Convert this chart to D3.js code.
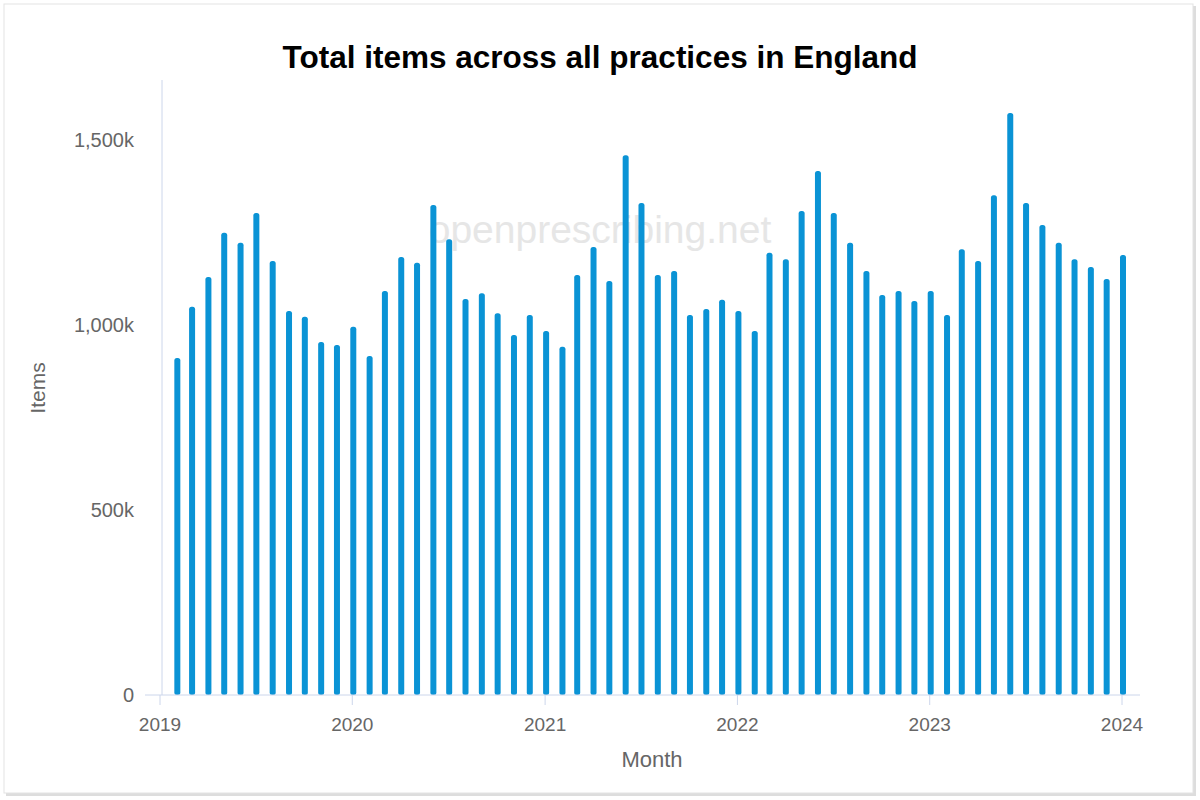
<!DOCTYPE html>
<html>
<head>
<meta charset="utf-8">
<script src="https://cdn.jsdelivr.net/npm/d3@7"></script>
<style>
  body { margin: 0; background: #fff; font-family: "Liberation Sans", Arial, sans-serif; }
</style>
</head>
<body>
<svg id="chart" width="1200" height="800"></svg>
<script>
// Monthly totals, Feb 2019 .. Jan 2024 (thousands of items)
const months = d3.timeMonths(new Date(2019, 1, 1), new Date(2024, 1, 1));
const items = [
  911, 1049, 1130, 1249, 1222, 1303, 1173, 1038, 1022, 954, 946,
  995, 916, 1092, 1184, 1168, 1324, 1232, 1070, 1086, 1032, 973, 1027,
  984, 941, 1135, 1211, 1119, 1459, 1330, 1135, 1146, 1027, 1043, 1068,
  1038, 984, 1195, 1178, 1308, 1416, 1303, 1222, 1146, 1081, 1092, 1065,
  1092, 1027, 1205, 1173, 1351, 1573, 1330, 1270, 1222, 1178, 1157, 1124,
  1189
];
const yTicks = [0, 500, 1000, 1500];
const yearTicks = [2019, 2020, 2021, 2022, 2023, 2024].map(y => new Date(y, 0, 1));

const svg = d3.select("#chart");

// frame
svg.append("rect").attr("x", 6).attr("y", 6).attr("width", 1190).attr("height", 790)
  .attr("fill", "#ddd");
svg.append("rect").attr("x", 4).attr("y", 4).attr("width", 1189).attr("height", 789)
  .attr("fill", "#fff").attr("stroke", "#e3e3e3");

const x = d3.scaleTime().domain([new Date(2019, 0, 1), new Date(2024, 0, 1)]).range([160, 1122]);
const y = d3.scaleLinear().domain([0, 1000]).range([695, 325]);

svg.append("text").attr("x", 600).attr("y", 68).attr("text-anchor", "middle")
  .attr("font-size", 31.5).attr("font-weight", "bold").attr("fill", "#000")
  .text("Total items across all practices in England");

// watermark
svg.append("text").attr("x", 600).attr("y", 243).attr("text-anchor", "middle")
  .attr("font-size", 39).attr("fill", "#e6e6e6").text("openprescribing.net");

// y axis line
svg.append("line").attr("x1", 162).attr("x2", 162).attr("y1", 80).attr("y2", 695)
  .attr("stroke", "#ccd6eb");

svg.selectAll(".ytick").data(yTicks).enter().append("text")
  .attr("x", 134).attr("y", d => y(d) + 7).attr("text-anchor", "end")
  .attr("font-size", 20).attr("fill", "#666")
  .text(d => d === 0 ? "0" : d3.format(",")(d) + "k");

svg.append("text").attr("transform", "translate(45,388) rotate(-90)")
  .attr("text-anchor", "middle").attr("font-size", 21).attr("fill", "#666").text("Items");

// bars
svg.selectAll(".bar").data(items).enter().append("rect")
  .attr("x", (d, i) => x(months[i]) + 1 - 3)
  .attr("y", d => y(d))
  .attr("width", 6)
  .attr("height", d => 695 - y(d))
  .attr("rx", 2.5)
  .attr("fill", "#0a93d5");

// x axis
svg.append("line").attr("x1", 145).attr("x2", 1140).attr("y1", 695).attr("y2", 695)
  .attr("stroke", "#ccd6eb");
const xt = svg.selectAll(".xtick").data(yearTicks).enter().append("g");
xt.append("line").attr("x1", d => x(d)).attr("x2", d => x(d)).attr("y1", 695).attr("y2", 705)
  .attr("stroke", "#ccd6eb");
xt.append("text").attr("x", d => x(d)).attr("y", 731).attr("text-anchor", "middle")
  .attr("font-size", 19).attr("fill", "#666").text(d => d.getFullYear());

svg.append("text").attr("x", 652).attr("y", 767).attr("text-anchor", "middle")
  .attr("font-size", 22).attr("fill", "#666").text("Month");
</script>
</body>
</html>
